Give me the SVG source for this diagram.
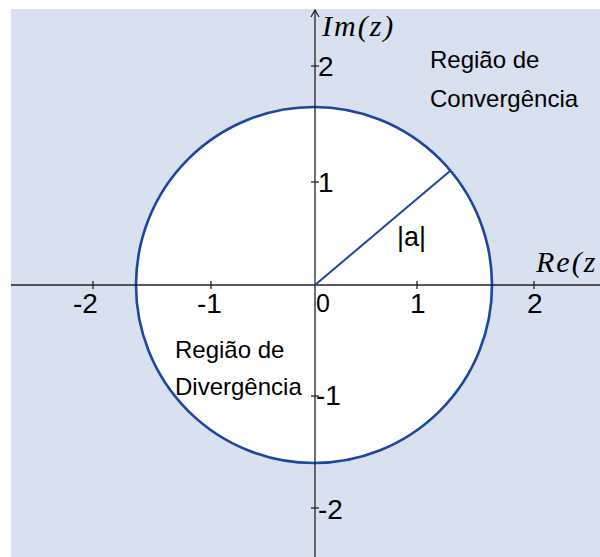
<svg xmlns="http://www.w3.org/2000/svg" width="600" height="557" viewBox="0 0 600 557">
<style>
.lbl{font-family:"Liberation Sans",Arial,sans-serif;fill:#000}
.tick{font-size:28px}
.reg{font-size:24px}
.math{font-family:"Liberation Serif","Times New Roman",serif;font-style:italic;font-size:30px;letter-spacing:2px;fill:#000}
.ax{stroke:#222;stroke-width:1.3;fill:none}
</style>
<rect x="0" y="0" width="600" height="557" fill="#ffffff"/>
<rect id="bg" x="11" y="9" width="589" height="548" fill="#d9e0ef"/>
<g id="roc">
<circle cx="314" cy="285" r="178" fill="#ffffff" stroke="#1c46a0" stroke-width="2.6"/>
</g>
<g id="connectors">
<line class="ax" x1="11" y1="285" x2="600" y2="285"/>
<line class="ax" x1="315" y1="11" x2="315" y2="557"/>
<polyline class="ax" points="311,17 315,10 319,17"/>
<g class="ax">
<line x1="93" y1="281" x2="93" y2="289"/>
<line x1="211" y1="281" x2="211" y2="289"/>
<line x1="417" y1="281" x2="417" y2="289"/>
<line x1="534" y1="281" x2="534" y2="289"/>
<line x1="311" y1="66" x2="319" y2="66"/>
<line x1="311" y1="182" x2="319" y2="182"/>
<line x1="311" y1="396" x2="319" y2="396"/>
<line x1="311" y1="508" x2="319" y2="508"/>
</g>
<line id="radius" x1="315" y1="285" x2="450" y2="171" stroke="#1c46a0" stroke-width="2"/>
</g>
<g id="labels">
<text class="lbl tick" x="73" y="313">-2</text>
<text class="lbl tick" x="197" y="313">-1</text>
<text class="lbl tick" x="316" y="312" style="font-size:25px">0</text>
<text class="lbl tick" x="410" y="313">1</text>
<text class="lbl tick" x="527" y="313">2</text>
<text class="lbl tick" x="318" y="76">2</text>
<text class="lbl tick" x="318" y="192">1</text>
<text class="lbl tick" x="316" y="405">-1</text>
<text class="lbl tick" x="318" y="519">-2</text>
<text class="lbl" x="397" y="246" style="font-size:27px">|a|</text>
<text class="math" x="322" y="36">Im(z)</text>
<text class="math" x="536" y="272">Re(z</text>
<text class="lbl reg" x="430" y="68">Região de</text>
<text class="lbl reg" x="430" y="107">Convergência</text>
<text class="lbl reg" x="175" y="358">Região de</text>
<text class="lbl reg" x="175" y="395">Divergência</text>
</g>
</svg>
